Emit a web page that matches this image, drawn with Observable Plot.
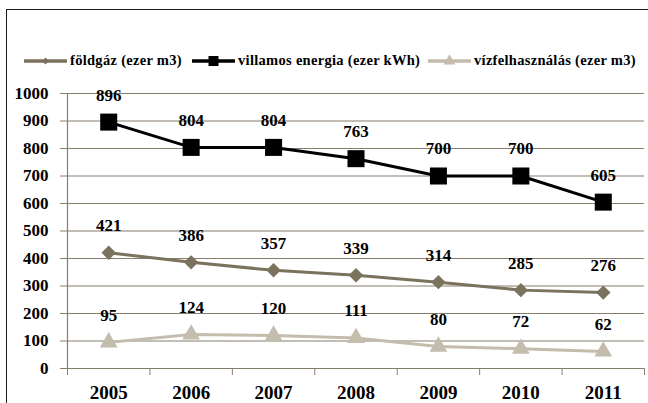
<!DOCTYPE html>
<html><head><meta charset="utf-8">
<script src="https://cdn.jsdelivr.net/npm/d3@7"></script>
<script src="https://cdn.jsdelivr.net/npm/@observablehq/plot@0.6"></script>
<style>
html,body{margin:0;padding:0;background:#fff;width:648px;height:403px;overflow:hidden;}
#frame{position:absolute;left:6px;top:9px;width:700px;height:450px;border-top:1.8px solid #1a1a1a;border-left:1.8px solid #1a1a1a;box-sizing:border-box;}
#legend{position:absolute;top:52px;left:0;width:648px;height:18px;font:bold 14.5px 'Liberation Serif',serif;letter-spacing:0.3px;color:#000;white-space:nowrap;}
#legend .item{position:absolute;top:0;display:flex;align-items:center;}
#legend svg{margin-right:3px;}
#chart{position:absolute;left:0;top:75px;}
#chart svg text{font-weight:700;}
</style></head><body>
<div id="frame"></div>
<div id="legend"></div>
<div id="chart"></div>
<script>
const years = [2005, 2006, 2007, 2008, 2009, 2010, 2011];
const seriesNames = ["földgáz (ezer m3)", "villamos energia (ezer kWh)", "vízfelhasználás (ezer m3)"];
const gas = [421, 386, 357, 339, 314, 285, 276];
const electricity = [896, 804, 804, 763, 700, 700, 605];
const water = [95, 124, 120, 111, 80, 72, 62];
const yTicks = [0, 100, 200, 300, 400, 500, 600, 700, 800, 900, 1000];

const colors = ["#7b725e", "#000000", "#c4bcac"];
const symbols = ["diamond2", "square", "triangle"];
const radii = [6.5, 9.6, 6.6];
const gridColor = "#867e6c";
const font = "'Liberation Serif', serif";
const legendLeft = [24, 192, 428];

const seriesValues = [gas, electricity, water];
const rows = [];
seriesValues.forEach((vals, si) => vals.forEach((v, i) => rows.push({year: years[i], series: seriesNames[si], value: v})));
const bounds = years.map(y => y - 0.5).concat([years[years.length - 1] + 0.5]);

const marks = [
  Plot.gridY(yTicks.filter(d => d > 0), {stroke: gridColor, strokeOpacity: 1, strokeWidth: 1.2}),
  Plot.axisY(yTicks, {tickSize: 7, tickPadding: 12, stroke: gridColor, strokeOpacity: 1, fill: "#000", fontSize: 17, tickFormat: d => String(d), label: null}),
  Plot.ruleX([bounds[0]], {y1: 0, y2: 1000, stroke: gridColor, strokeWidth: 1.2}),
  Plot.ruleY([0], {stroke: gridColor, strokeWidth: 1.2}),
  Plot.axisX(bounds, {tickSize: 7, tickFormat: () => "", stroke: gridColor, strokeOpacity: 1, label: null}),
  Plot.axisX(years, {tickSize: 0, tickPadding: 17, tickFormat: d => String(d), fill: "#000", fontSize: 19, label: null})
];
seriesNames.forEach((name, si) => {
  const data = rows.filter(d => d.series === name);
  marks.push(Plot.line(data, {x: "year", y: "value", stroke: colors[si], strokeWidth: 3}));
  marks.push(Plot.dot(data, {x: "year", y: "value", symbol: () => symbols[si], fill: colors[si], stroke: "none", r: radii[si]}));
});
seriesNames.forEach((name, si) => {
  const data = rows.filter(d => d.series === name);
  marks.push(Plot.text(data, {x: "year", y: "value", text: d => String(d.value), dy: -27, fontSize: 17, fill: "#000"}));
});

const chart = Plot.plot({
  width: 648, height: 328,
  marginLeft: 67, marginRight: 4, marginTop: 18, marginBottom: 35,
  style: {fontFamily: font, background: "transparent", overflow: "visible"},
  x: {domain: [bounds[0], bounds[bounds.length - 1]]},
  y: {domain: [0, 1000]},
  symbol: {domain: symbols, range: symbols},
  marks
});
document.getElementById("chart").appendChild(chart);

// legend
const legend = document.getElementById("legend");
seriesNames.forEach((name, si) => {
  const item = document.createElement("div");
  item.className = "item";
  item.style.left = legendLeft[si] + "px";
  const ns = "http://www.w3.org/2000/svg";
  const svg = document.createElementNS(ns, "svg");
  svg.setAttribute("width", 43); svg.setAttribute("height", 16);
  const line = document.createElementNS(ns, "line");
  line.setAttribute("x1", 0); line.setAttribute("x2", 43); line.setAttribute("y1", 8); line.setAttribute("y2", 8);
  line.setAttribute("stroke", colors[si]); line.setAttribute("stroke-width", 3.5);
  svg.appendChild(line);
  const path = document.createElementNS(ns, "path");
  const sym = [d3.symbolDiamond2, d3.symbolSquare, d3.symbolTriangle][si];
  const size = [32, 100, 60][si];
  path.setAttribute("d", d3.symbol(sym, size)());
  path.setAttribute("transform", "translate(21.5,8)");
  path.setAttribute("fill", colors[si]);
  svg.appendChild(path);
  item.appendChild(svg);
  const span = document.createElement("span");
  span.textContent = name;
  item.appendChild(span);
  legend.appendChild(item);
});
</script>
</body></html>
